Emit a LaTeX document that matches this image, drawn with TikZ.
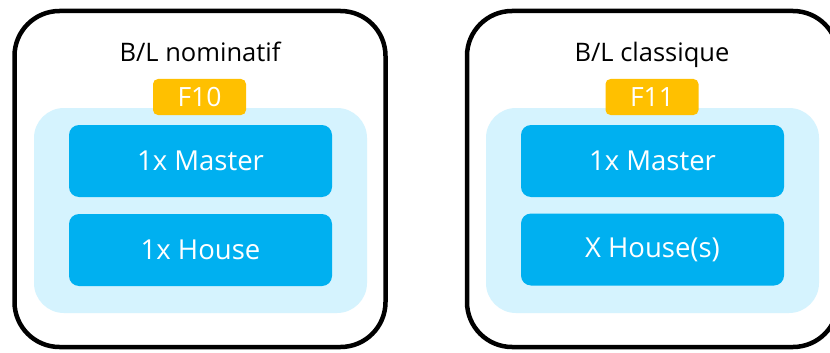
\documentclass[tikz,border=0pt]{standalone}
\usepackage{fontspec}
\setmainfont[Ligatures={NoCommon}]{Open Sans}
\definecolor{frame}{HTML}{000000}
\definecolor{lightblue}{HTML}{D5F3FE}
\definecolor{mainblue}{HTML}{00B0F0}
\definecolor{tagyellow}{HTML}{FFC000}
\tikzset{
  outerbox/.style={draw=frame, line width=4.5pt, rounded corners=45pt, fill=white, minimum width=371pt, minimum height=336pt, inner sep=0pt},
  groupbox/.style={fill=lightblue, rounded corners=30pt, minimum width=333pt, minimum height=205pt, inner sep=0pt},
  itembox/.style={fill=mainblue, rounded corners=10pt, minimum width=263pt, minimum height=72pt, inner sep=0pt, text=white, font=\fontsize{27.5}{32}\selectfont},
  tagbox/.style={fill=tagyellow, rounded corners=5pt, minimum width=93pt, minimum height=36pt, inner sep=0pt, text=white, font=\fontsize{26.5}{30}\selectfont},
  titletext/.style={anchor=base, text=black, inner sep=0pt, font=\fontsize{25.5}{30}\selectfont}
}
\begin{document}
\begin{tikzpicture}[x=1pt,y=-1pt]
\clip (0,0) rectangle (830,353);
\useasboundingbox (0,0) rectangle (830,353);
% left
\node[outerbox] (ol) at (200,179) {};
\node[groupbox] (gl) at (200.5,210.5) {};
\node[tagbox] (tl) at (199.5,97) {F10};
\node[itembox] (ml) at (200.5,161) {1x Master};
\node[itembox] (hl) at (200.5,250) {1x House};
\node[titletext] (ttl) at (200,62) {B/L nominatif};
% right
\node[outerbox] (or) at (652.5,179) {};
\node[groupbox] (gr) at (652.5,210.5) {};
\node[tagbox] (tr) at (652,97) {F11};
\node[itembox] (mr) at (652.5,161) {1x Master};
\node[itembox] (hr) at (652.5,249.5) {X House(s)};
\node[titletext] (ttr) at (652,62) {B/L classique};
\end{tikzpicture}
\end{document}
